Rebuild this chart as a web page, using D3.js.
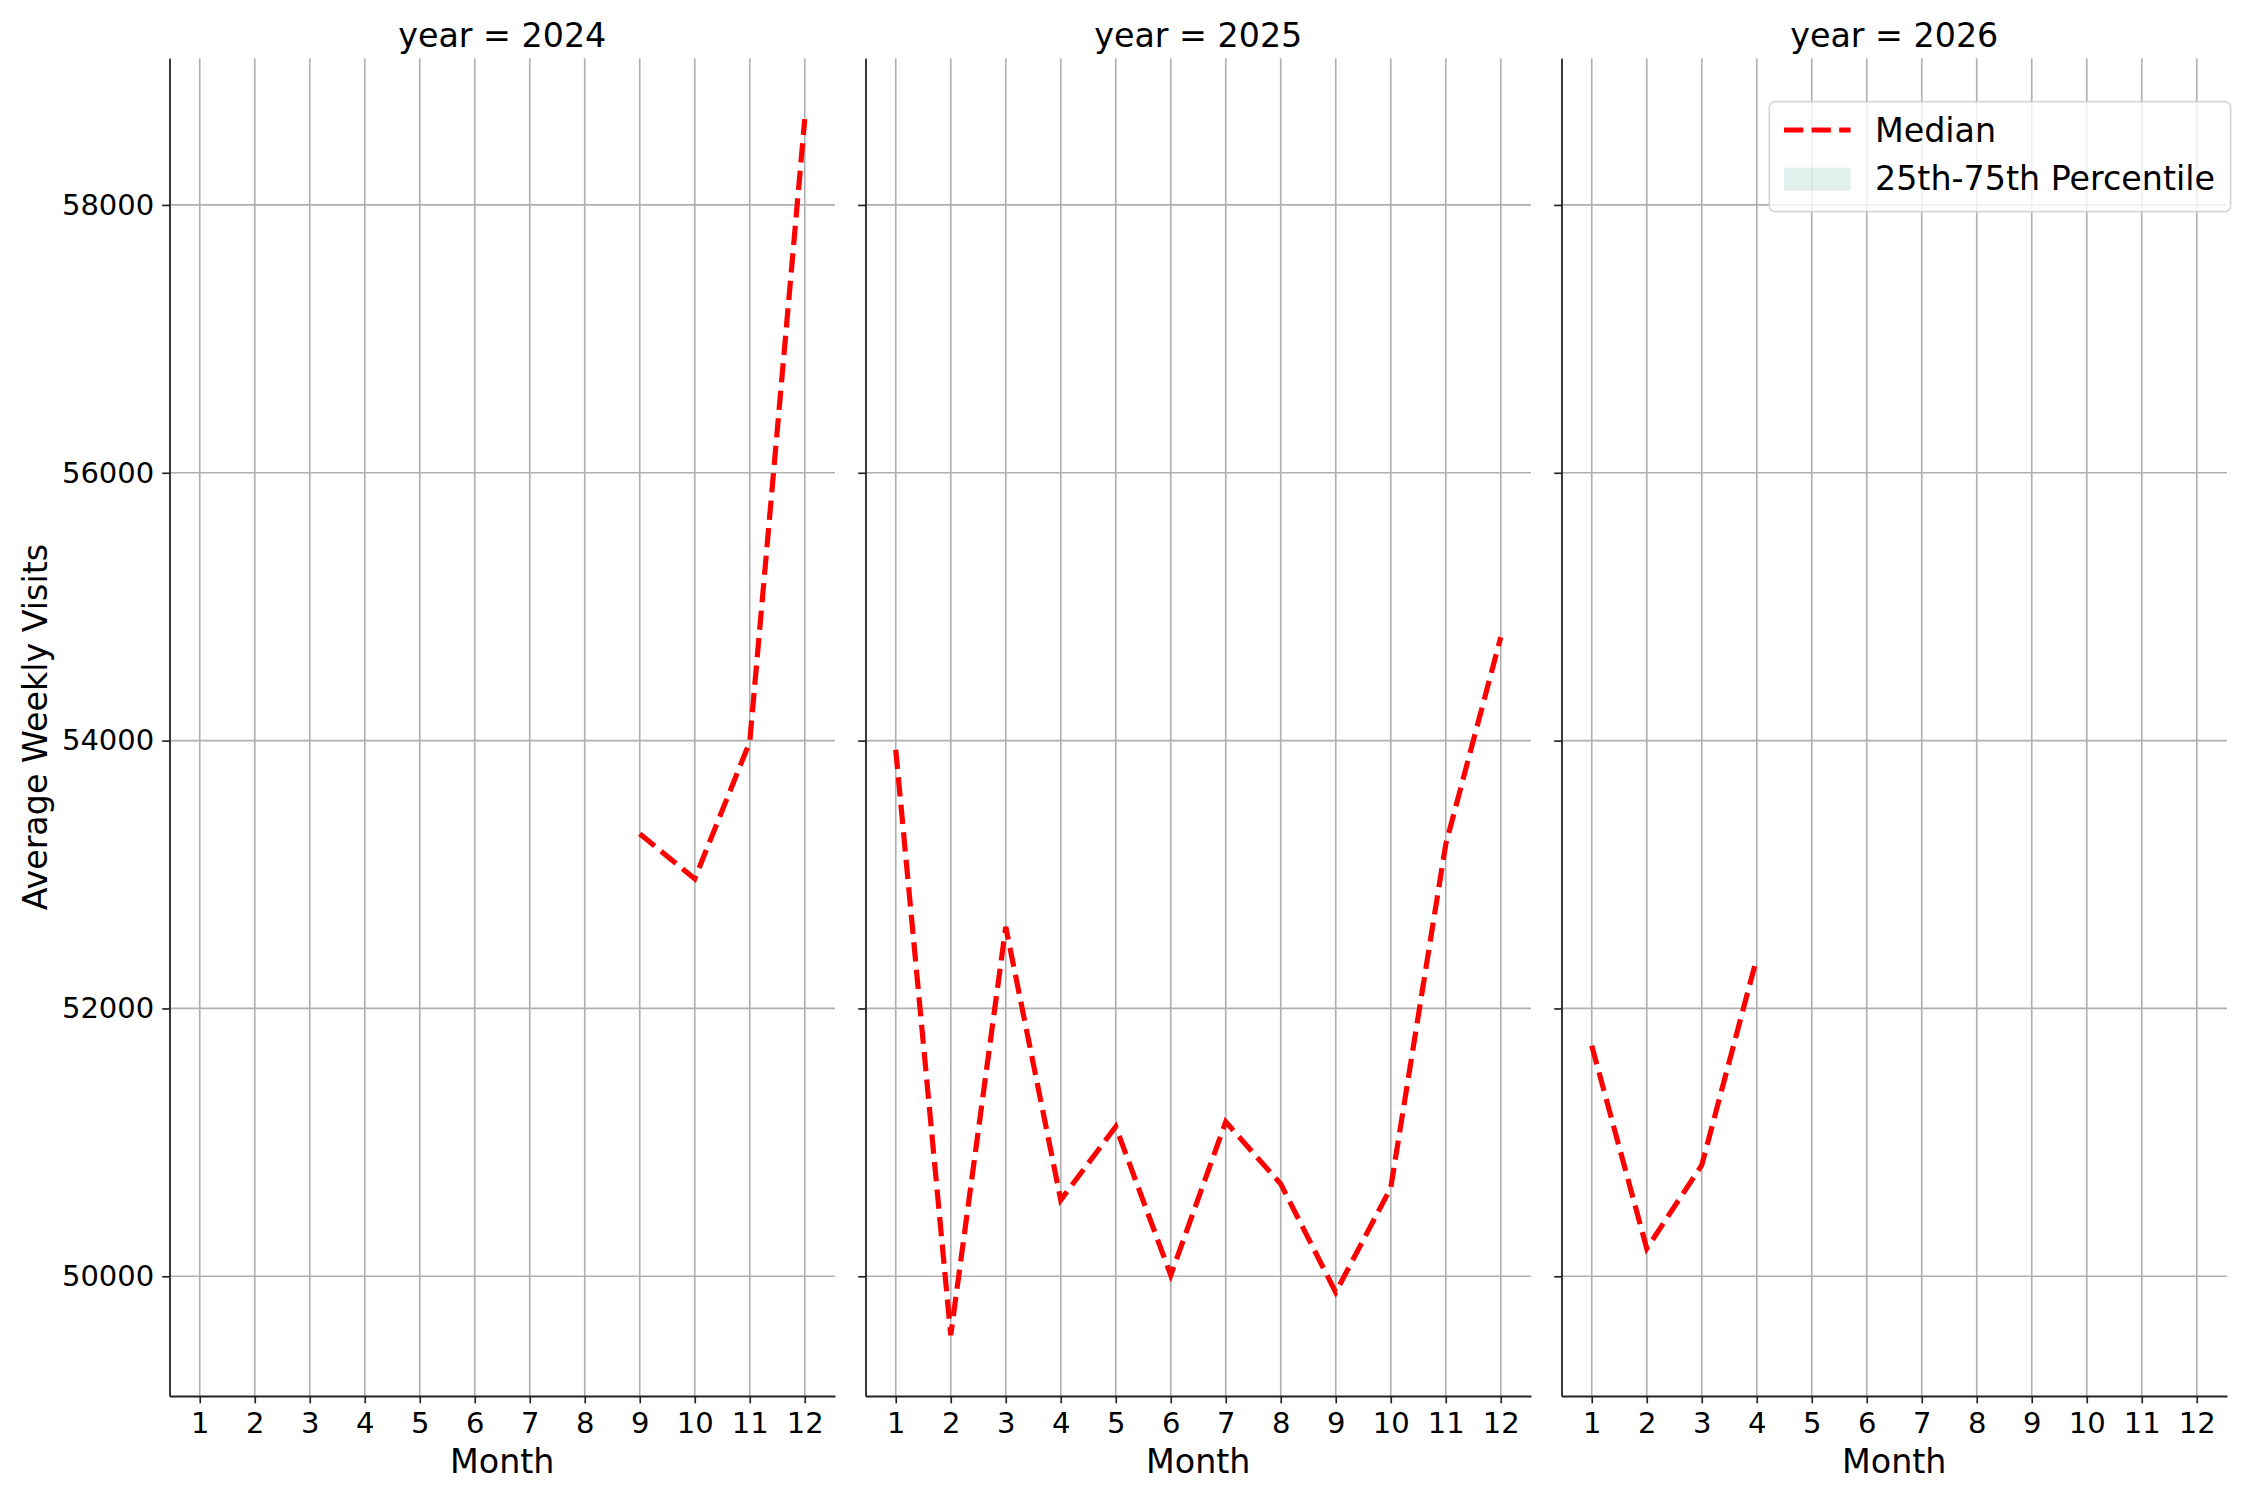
<!DOCTYPE html>
<html>
<head>
<meta charset="utf-8">
<script src="https://cdn.jsdelivr.net/npm/d3@7"></script>
<style>
  body { margin: 0; background: #fff; }
  svg { display: block; font-family: "DejaVu Sans", sans-serif; }
</style>
</head>
<body>
<div class="chart"></div>
<script>
// facet years and the months that carry a median value
const years = [2024, 2025, 2026];
const months2024 = [9, 10, 11, 12];
const median2024 = [53305, 52968, 53990, 58641];
const months2025 = [1, 2, 3, 4, 5, 6, 7, 8, 9, 10, 11, 12];
const median2025 = [53931, 49560, 52609, 50570, 51117, 50008, 51153, 50689, 49880, 50660, 53225, 54772];
const months2026 = [1, 2, 3, 4];
const median2026 = [51722, 50207, 50830, 52375];

const monthTicks = [1, 2, 3, 4, 5, 6, 7, 8, 9, 10, 11, 12];
const yTicks = [50000, 52000, 54000, 56000, 58000];
const legendLabels = ["Median", "25th-75th Percentile"];

const series = [
    { year: 2024, months: months2024, values: median2024 },
    { year: 2025, months: months2025, values: median2025 },
    { year: 2026, months: months2026, values: median2026 }
];

const w = 2250;
const h = 1500;
const plotTop = 58.3, plotBottom = 1396;
const panelLeft = [169.5, 865.5, 1561.5];
const panelW = 665.5;
const gridColor = "#b0b0b0";
const axisColor = "#222";

const svg = d3.select('.chart')
    .append('svg')
    .attr('width', w)
    .attr('height', h);

// shared y scale with matplotlib-like 5% margin
const allValues = median2024.concat(median2025, median2026);
const ext = d3.extent(allValues);
const pad = (ext[1] - ext[0]) * 0.05;
const y = d3.scaleLinear()
    .domain([ext[0] - pad, ext[1] + pad])
    .range([plotBottom, plotTop]);

series.forEach(function(s, i) {
    const x0 = panelLeft[i];
    const x = d3.scaleLinear()
        .domain([0.45, 12.55])
        .range([x0, x0 + panelW]);

    const g = svg.append('g');

    //grid
    g.selectAll('.vgrid')
        .data(monthTicks)
        .enter()
        .append('line')
        .attr('x1', d => x(d)).attr('x2', d => x(d))
        .attr('y1', plotTop).attr('y2', plotBottom)
        .attr('stroke', gridColor)
        .attr('stroke-width', 1.67);

    g.selectAll('.hgrid')
        .data(yTicks)
        .enter()
        .append('line')
        .attr('x1', x0).attr('x2', x0 + panelW)
        .attr('y1', d => y(d)).attr('y2', d => y(d))
        .attr('stroke', gridColor)
        .attr('stroke-width', 1.67);

    //median line
    const pts = s.months.map((m, j) => [m, s.values[j]]);
    g.append('path')
        .datum(pts)
        .attr('d', d3.line().x(d => x(d[0])).y(d => y(d[1])))
        .attr('fill', 'none')
        .attr('stroke', 'red')
        .attr('stroke-width', 5.2)
        .attr('stroke-dasharray', '19.3,8.3');

    //axes
    const xAxis = g.append('g')
        .attr('transform', 'translate(0,' + plotBottom + ')')
        .call(d3.axisBottom(x)
            .tickValues(monthTicks)
            .tickFormat(d3.format('d'))
            .tickSize(7.3)
            .tickSizeOuter(0)
            .tickPadding(9));

    const yAxis = g.append('g')
        .attr('transform', 'translate(' + x0 + ',0)')
        .call(d3.axisLeft(y)
            .tickValues(yTicks)
            .tickFormat(i === 0 ? d3.format('d') : () => '')
            .tickSize(7.3)
            .tickSizeOuter(0)
            .tickPadding(8));

    [xAxis, yAxis].forEach(function(a) {
        a.attr('font-family', null).attr('font-size', null);
        a.select('.domain').attr('stroke', axisColor).attr('stroke-width', 1.8);
        a.selectAll('.tick line').attr('stroke', axisColor).attr('stroke-width', 1.67);
        a.selectAll('.tick text')
            .attr('fill', '#000')
            .style('font-size', '29px');
    });

    //title and x label
    g.append('text')
        .text('year = ' + years[i])
        .attr('x', x0 + panelW / 2)
        .attr('y', 46.7)
        .attr('text-anchor', 'middle')
        .attr('font-size', 33.3);

    g.append('text')
        .text('Month')
        .attr('x', x0 + panelW / 2)
        .attr('y', 1473)
        .attr('text-anchor', 'middle')
        .attr('font-size', 33.3);
});

//y label
svg.append('text')
    .text('Average Weekly Visits')
    .attr('transform', 'translate(46.5,' + ((plotTop + plotBottom) / 2) + ') rotate(-90)')
    .attr('text-anchor', 'middle')
    .attr('font-size', 33.3);

//legend
const lg = svg.append('g');
lg.append('rect')
    .attr('x', 1769.3).attr('y', 101.7)
    .attr('width', 461.3).attr('height', 110)
    .attr('rx', 6).attr('ry', 6)
    .attr('fill', 'white').attr('fill-opacity', 0.8)
    .attr('stroke', '#cccccc').attr('stroke-opacity', 0.8)
    .attr('stroke-width', 1.67);

lg.append('line')
    .attr('x1', 1784).attr('x2', 1850.6)
    .attr('y1', 130).attr('y2', 130)
    .attr('stroke', 'red')
    .attr('stroke-width', 5.2)
    .attr('stroke-dasharray', '19.3,8.3');

lg.append('rect')
    .attr('x', 1784).attr('y', 167.7)
    .attr('width', 66.6).attr('height', 23)
    .attr('fill', '#69b3a2').attr('fill-opacity', 0.2);

lg.selectAll('.ltext')
    .data(legendLabels)
    .enter()
    .append('text')
    .text(d => d)
    .attr('x', 1875)
    .attr('y', (d, i) => i === 0 ? 141.7 : 190)
    .attr('font-size', 33.3);
</script>
</body>
</html>
